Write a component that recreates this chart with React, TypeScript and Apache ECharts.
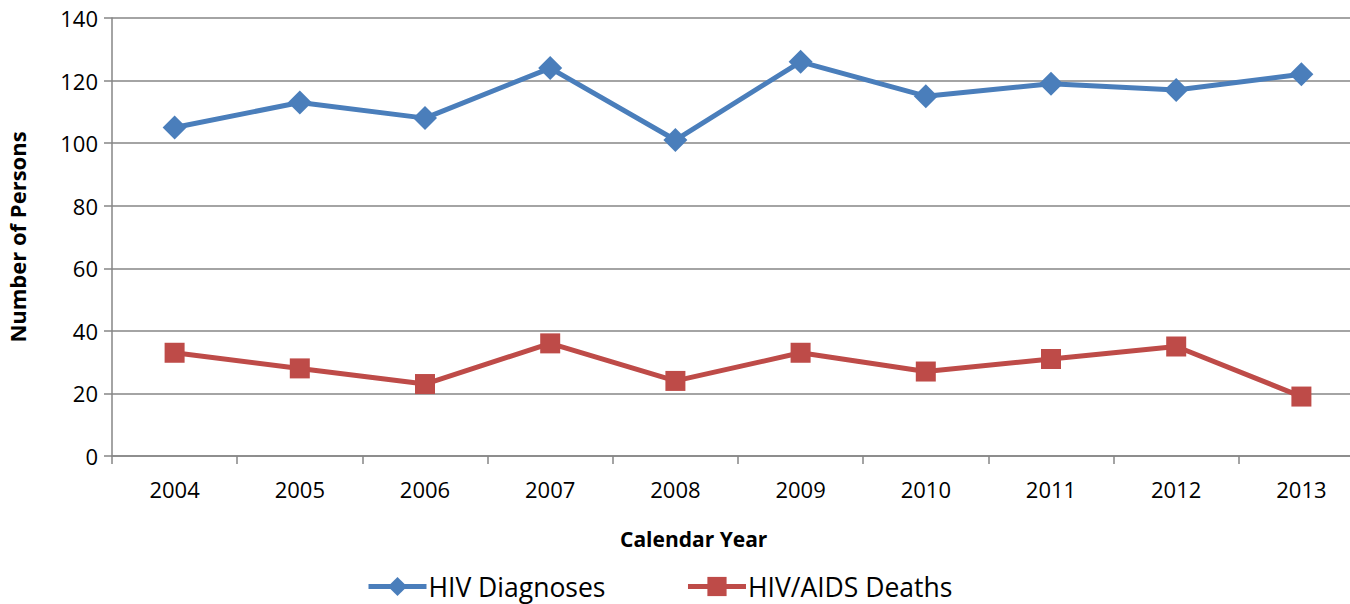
import React, { useEffect, useRef } from "react";
import * as echarts from "echarts";

const years = ["2004", "2005", "2006", "2007", "2008", "2009", "2010", "2011", "2012", "2013"];
const hivDiagnoses = [105, 113, 108, 124, 101, 126, 115, 119, 117, 122];
const hivAidsDeaths = [33, 28, 23, 36, 24, 33, 27, 31, 35, 19];

const FONT = "'Open Sans', sans-serif";
const GRAY = "#868686";
const BLUE = "#4a7ebb";
const RED = "#be4b48";

export default function App() {
  const ref = useRef<HTMLDivElement>(null);
  useEffect(() => {
    if (!ref.current) return;
    const chart = echarts.init(ref.current, null, { renderer: "svg" });
    chart.setOption({
      animation: false,
      textStyle: { fontFamily: FONT },
      grid: { left: 112, right: 16, top: 18, bottom: 148, containLabel: false, outerBoundsMode: "none" },
      legend: {
        top: 568,
        left: 361,
        itemWidth: 58,
        itemHeight: 24,
        itemGap: 80,
        lineStyle: { width: 5 },
        textStyle: { fontSize: 26.5, color: "#000", fontFamily: FONT, padding: [0, 0, 0, -3] },
        data: ["HIV Diagnoses", "HIV/AIDS Deaths"],
      },
      graphic: [
        {
          type: "text",
          left: 620,
          top: 528,
          style: { text: "Calendar Year", fontSize: 21, fontWeight: "bold", fill: "#000", fontFamily: FONT },
        },
      ],
      xAxis: {
        type: "category",
        data: years,
        boundaryGap: true,
        axisLine: { lineStyle: { color: GRAY, width: 1.5 } },
        axisTick: { show: true, length: 8, lineStyle: { color: GRAY, width: 1.5 } },
        axisLabel: { fontSize: 22, color: "#000", margin: 22, fontFamily: FONT },
        splitLine: { show: false },
      },
      yAxis: {
        type: "value",
        min: 0,
        max: 140,
        interval: 20,
        name: "Number of Persons",
        nameLocation: "middle",
        nameGap: 84,
        nameTextStyle: { fontSize: 22, fontWeight: "bold", color: "#000", fontFamily: FONT },
        axisLine: { show: true, lineStyle: { color: GRAY, width: 1.5 } },
        axisTick: { show: true, length: 8, lineStyle: { color: GRAY, width: 1.5 } },
        axisLabel: { fontSize: 22, color: "#000", margin: 14, fontFamily: FONT },
        splitLine: { show: true, lineStyle: { color: GRAY, width: 1.5 } },
      },
      series: [
        {
          name: "HIV Diagnoses",
          type: "line",
          data: hivDiagnoses,
          symbol: "diamond",
          symbolSize: 24,
          lineStyle: { color: BLUE, width: 5 },
          itemStyle: { color: BLUE },
        },
        {
          name: "HIV/AIDS Deaths",
          type: "line",
          data: hivAidsDeaths,
          symbol: "rect",
          symbolSize: 20,
          lineStyle: { color: RED, width: 5 },
          itemStyle: { color: RED },
        },
      ],
    });
    return () => chart.dispose();
  }, []);
  return (
    <div style={{ position: "absolute", left: 0, top: 0, width: 1350, height: 604, overflow: "hidden", background: "#fff" }}>
      <div ref={ref} style={{ width: 1380, height: 604 }} />
    </div>
  );
}
